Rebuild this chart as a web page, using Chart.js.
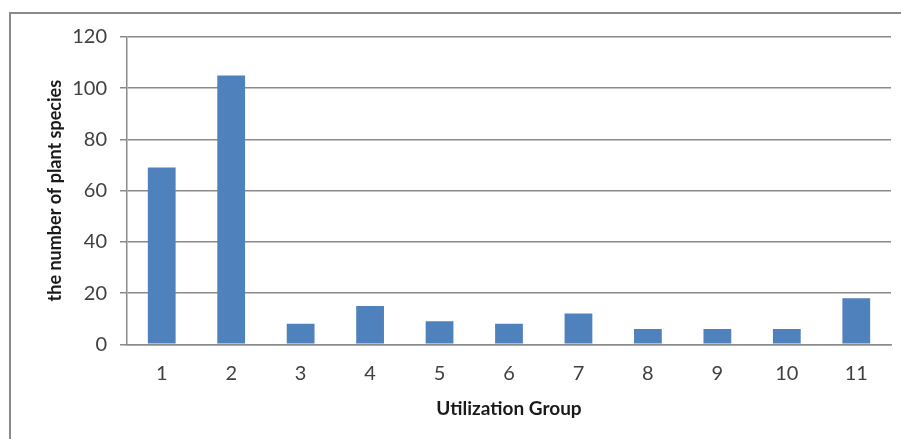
<!DOCTYPE html>
<html>
<head>
<meta charset="utf-8">
<script src="https://cdn.jsdelivr.net/npm/chart.js@4.4.1/dist/chart.umd.min.js"></script>
<style>
  html, body { margin: 0; padding: 0; background: #ffffff; }
  #wrap { width: 901px; height: 439px; position: relative; }
</style>
</head>
<body>
<div id="wrap"><canvas id="chart" width="901" height="439"></canvas></div>
<script>
// Number of plant species in each utilization group
const groups = ['1', '2', '3', '4', '5', '6', '7', '8', '9', '10', '11'];
const speciesCounts = [69, 105, 8, 15, 9, 8, 12, 6, 6, 6, 18];
const yTicks = [0, 20, 40, 60, 80, 100, 120];

const axisGray = '#8a8a8a';
const barBlue = '#4f81bd';

// Outer frame around the chart (left and top edges are visible)
const framePlugin = {
  id: 'frame',
  beforeDraw(chart) {
    const ctx = chart.ctx;
    ctx.save();
    ctx.fillStyle = '#ffffff';
    ctx.fillRect(0, 0, chart.width, chart.height);
    ctx.strokeStyle = axisGray;
    ctx.lineWidth = 2;
    ctx.beginPath();
    ctx.moveTo(10, chart.height);
    ctx.lineTo(10, 13);
    ctx.lineTo(chart.width, 13);
    ctx.stroke();
    ctx.restore();
  }
};

new Chart(document.getElementById('chart'), {
  type: 'bar',
  data: {
    labels: groups,
    datasets: [{
      data: speciesCounts,
      backgroundColor: barBlue,
      borderWidth: 0,
      categoryPercentage: 1.0,
      barPercentage: 0.4
    }]
  },
  options: {
    responsive: false,
    animation: false,
    devicePixelRatio: 1,
    layout: { padding: { top: 37, right: 10, left: 0, bottom: 0 } },
    plugins: {
      legend: { display: false },
      tooltip: { enabled: false }
    },
    scales: {
      x: {
        grid: { display: false, drawTicks: false },
        border: { display: true, color: axisGray, width: 1.5 },
        ticks: {
          color: '#404040',
          font: { family: 'Lato', size: 20 },
          padding: 17
        },
        title: {
          display: true,
          text: 'Utilization Group',
          color: '#1a1a1a',
          font: { family: 'Lato', size: 19, weight: 'bold' },
          padding: { top: 0, bottom: 19 }
        },
        afterFit(scale) { scale.height = 94.7; }
      },
      y: {
        min: 0,
        max: 120,
        afterBuildTicks(scale) { scale.ticks = yTicks.map(v => ({ value: v })); },
        grid: {
          color: axisGray,
          lineWidth: 1.5,
          drawTicks: true,
          tickLength: 7,
          tickColor: axisGray
        },
        border: { display: true, color: axisGray, width: 1.5 },
        ticks: {
          color: '#404040',
          font: { family: 'Lato', size: 20 },
          padding: 13
        },
        title: {
          display: true,
          text: 'the number of plant species',
          color: '#1a1a1a',
          font: { family: 'Lato', size: 18, weight: 'bold' },
          padding: { top: 44, bottom: 0 }
        },
        afterFit(scale) { scale.width = 127; }
      }
    }
  },
  plugins: [framePlugin]
});
</script>
</body>
</html>
